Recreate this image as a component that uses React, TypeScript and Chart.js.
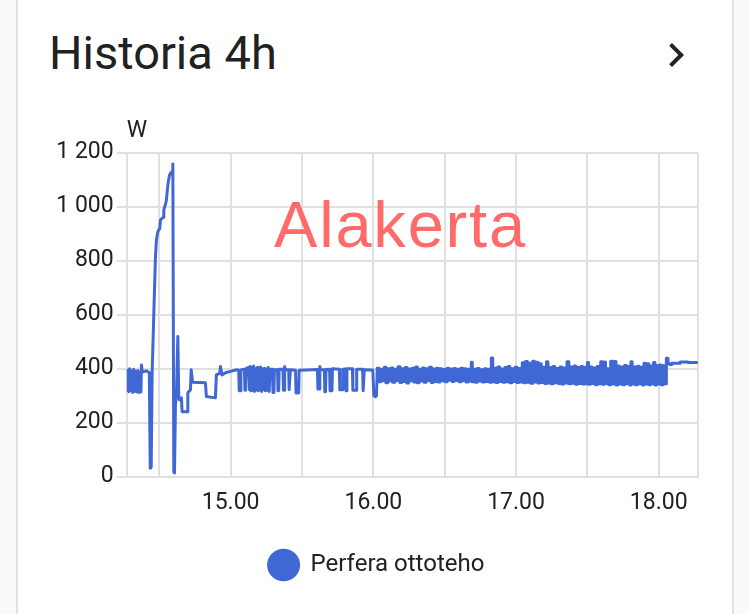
import React, { useEffect, useRef } from 'react';
import { Chart, registerables } from 'chart.js';

Chart.register(...registerables);

// ---- texts ----
const titleText = 'Historia 4h';
const overlayText = 'Alakerta';
const seriesLabel = 'Perfera ottoteho';
const unitLabel = 'W';

// ---- axes (minutes since midnight) ----
const xMin = 856.3;
const xMax = 1096.5;
const xGridMinutes = [870, 900, 930, 960, 990, 1020, 1050, 1080];
const xLabelMinutes = [900, 960, 1020, 1080];
const yTicks = [0, 200, 400, 600, 800, 1000, 1200];

// ---- series: 14.16 – 15.02 ----
const startMinutes = [856.5, 856.8, 857.2, 857.6, 858.0, 858.4, 858.8, 859.3, 859.7, 860.1,
  860.6, 861.0, 861.4, 861.9, 862.3, 862.5, 862.9, 864.5, 865.8, 866.2,
  866.6, 867.0, 867.7, 868.1, 868.4, 868.8, 869.4, 870.2, 870.5, 871.6,
  871.9, 872.9, 873.7, 874.3, 875.0, 875.4, 875.7, 876.1, 876.4, 876.8,
  877.2, 877.8, 878.2, 878.5, 879.3, 879.6, 881.7, 882.0, 883.1, 883.4,
  884.0, 889.4, 889.8, 893.6, 894.0, 895.4, 895.7, 896.4, 897.8, 899.9,
  902.5];
const startWatts = [320, 395, 315, 400, 318, 392, 312, 398, 316, 390,
  314, 393, 312, 388, 314, 414, 388, 392, 386, 31,
  35, 383, 605, 728, 815, 877, 907, 920, 951, 961,
  988, 1019, 1087, 1117, 1127, 1130, 1158, 18, 14, 270,
  300, 519, 290, 285, 292, 241, 241, 311, 322, 396,
  350, 348, 297, 292, 377, 383, 408, 377, 385, 390,
  396];

// ---- series: 15.03 – 16.02 ----
const midMinutes = [903.4, 903.6, 904.1, 904.3, 905.8, 906.0, 906.3, 906.5, 907.6, 907.9,
  908.3, 908.6, 909.0, 909.3, 909.7, 910.0, 910.4, 910.8, 911.2, 911.5,
  911.9, 912.3, 912.6, 913.0, 913.5, 913.9, 914.3, 914.6, 915.0, 915.4,
  915.8, 916.2, 916.6, 917.6, 917.8, 918.2, 918.4, 919.7, 919.9, 920.2,
  920.4, 922.0, 922.2, 922.5, 922.7, 923.0, 924.4, 924.6, 924.9, 925.1,
  927.3, 927.5, 928.6, 928.8, 932.0, 936.5, 936.7, 937.3, 937.5, 937.8,
  939.4, 939.6, 939.9, 940.1, 941.6, 941.8, 942.6, 942.8, 945.7, 945.9,
  947.0, 947.2, 948.3, 948.5, 948.7, 948.9, 951.2, 951.4, 952.8, 953.0,
  955.5, 955.7, 956.0, 956.2, 959.5, 959.8, 960.2, 960.9, 961.3, 961.6];
const midWatts = [394, 318, 318, 395, 398, 320, 320, 400, 405, 322,
  408, 318, 402, 320, 410, 316, 400, 322, 404, 318,
  398, 320, 406, 316, 400, 322, 402, 318, 398, 320,
  404, 316, 398, 398, 312, 312, 396, 396, 318, 318,
  398, 398, 320, 320, 408, 397, 396, 322, 322, 396,
  394, 310, 310, 394, 395, 397, 325, 325, 408, 396,
  396, 315, 315, 397, 398, 318, 318, 400, 398, 322,
  322, 398, 399, 318, 318, 400, 400, 320, 320, 398,
  398, 318, 318, 396, 395, 392, 300, 296, 300, 380];

// ---- series: 16.02 – 18.04 ----
const denseMinutes = [962.4, 963.1, 963.8, 964.6, 965.3, 966.0, 966.8, 967.5, 968.2, 969.0,
  969.7, 970.4, 971.2, 971.9, 972.6, 973.4, 974.1, 974.8, 975.6, 976.3,
  977.0, 977.8, 978.5, 979.2, 980.0, 980.7, 981.4, 982.2, 982.9, 983.6,
  984.4, 985.1, 985.8, 986.6, 987.3, 988.0, 988.8, 989.5, 990.2, 991.0,
  991.7, 992.4, 993.2, 993.9, 994.6, 995.4, 996.1, 996.8, 997.6, 998.3,
  999.0, 999.8, 1000.5, 1001.2, 1001.6, 1002.3, 1003.0, 1003.7, 1004.5, 1005.2,
  1005.9, 1006.7, 1007.4, 1008.1, 1008.9, 1009.6, 1010.2, 1010.9, 1011.6, 1012.3,
  1013.1, 1013.8, 1014.5, 1015.3, 1016.0, 1016.7, 1017.4, 1018.2, 1018.9, 1019.6,
  1020.4, 1021.1, 1021.8, 1022.6, 1023.3, 1024.0, 1024.8, 1025.5, 1026.2, 1027.0,
  1027.7, 1028.4, 1029.2, 1029.9, 1030.6, 1031.3, 1032.1, 1032.8, 1033.4, 1034.1,
  1034.8, 1035.6, 1036.3, 1037.0, 1037.8, 1038.5, 1039.2, 1040.0, 1040.7, 1041.4,
  1042.2, 1042.9, 1043.6, 1044.4, 1045.1, 1045.8, 1046.6, 1047.3, 1048.0, 1048.8,
  1049.4, 1050.0, 1050.5, 1051.2, 1051.9, 1052.6, 1053.4, 1054.1, 1054.8, 1055.6,
  1056.3, 1057.0, 1057.6, 1058.3, 1059.0, 1059.8, 1060.6, 1061.3, 1062.0, 1062.7,
  1063.4, 1064.2, 1064.9, 1065.6, 1066.4, 1067.1, 1067.8, 1068.3, 1068.8, 1069.5,
  1070.2, 1071.0, 1071.7, 1072.4, 1073.2, 1073.8, 1074.4, 1075.1, 1075.8, 1076.5,
  1077.2, 1077.8, 1078.4, 1079.0, 1079.7, 1080.4, 1081.1, 1081.8, 1082.5, 1083.2,
  1083.9];
const denseWatts = [402, 352, 398, 355, 405, 348, 400, 354, 403, 350,
  398, 356, 407, 349, 400, 353, 404, 347, 399, 355,
  402, 351, 406, 348, 398, 354, 403, 350, 400, 356,
  405, 349, 399, 353, 402, 351, 400, 355, 397, 352,
  402, 357, 399, 353, 401, 356, 398, 352, 402, 355,
  400, 351, 398, 354, 424, 352, 398, 350, 401, 354,
  396, 351, 400, 353, 398, 350, 440, 352, 402, 349,
  406, 353, 399, 350, 404, 352, 408, 348, 400, 353,
  405, 349, 401, 351, 422, 348, 427, 350, 420, 346,
  428, 351, 424, 347, 418, 349, 405, 345, 426, 347,
  404, 344, 408, 348, 401, 345, 406, 343, 403, 347,
  426, 344, 406, 346, 410, 342, 404, 345, 408, 343,
  405, 344, 423, 342, 406, 345, 403, 341, 408, 344,
  426, 342, 425, 345, 400, 341, 428, 344, 427, 340,
  410, 343, 406, 341, 412, 344, 408, 340, 426, 343,
  406, 341, 409, 344, 405, 340, 420, 343, 418, 341,
  410, 344, 423, 340, 412, 343, 414, 341, 411, 344,
  439];

// ---- series: 18.05 – end ----
const tailMinutes = [1084.7, 1085.5, 1089.0, 1092.3, 1095.9];
const tailWatts = [418, 416, 420, 425, 423];

const lineColor = '#4068d4';
const textColor = '#212121';
const gridColor = '#e0e0e0';

const fmtMinutes = (m: number) =>
  `${Math.floor(m / 60)}.${String(Math.round(m % 60)).padStart(2, '0')}`;
const fmtWatts = (v: number) =>
  v >= 1000 ? `${Math.floor(v / 1000)}\u00a0${String(v % 1000).padStart(3, '0')}` : String(v);

// smooth part (start + mid) and the rapidly switching part (dense + tail), drawn stepped
const smoothMinutes = [...startMinutes, ...midMinutes];
const smoothWatts = [...startWatts, ...midWatts];
const steppedMinutes = [smoothMinutes[smoothMinutes.length - 1], ...denseMinutes, ...tailMinutes];
const steppedWatts = [smoothWatts[smoothWatts.length - 1], ...denseWatts, ...tailWatts];

const unitPlugin = {
  id: 'unitLabel',
  afterDraw(chart: any) {
    const { ctx, chartArea } = chart;
    ctx.save();
    ctx.font = '23px Roboto';
    ctx.fillStyle = textColor;
    ctx.textAlign = 'left';
    ctx.textBaseline = 'alphabetic';
    ctx.fillText(unitLabel, chartArea.left, chartArea.top - 16);
    ctx.restore();
  },
};

export default function App() {
  const canvasRef = useRef<HTMLCanvasElement>(null);

  useEffect(() => {
    if (!canvasRef.current) return;
    const smoothPoints = smoothMinutes.map((m, i) => ({ x: m, y: smoothWatts[i] }));
    const steppedPoints = steppedMinutes.map((m, i) => ({ x: m, y: steppedWatts[i] }));
    const common = {
      borderColor: lineColor,
      backgroundColor: lineColor,
      borderWidth: 3,
      borderJoinStyle: 'round',
      borderCapStyle: 'round',
      pointRadius: 0,
      pointHoverRadius: 0,
      pointStyle: 'circle',
      fill: false,
    };
    const chart = new Chart(canvasRef.current, {
      type: 'line',
      data: {
        datasets: [
          { ...common, label: seriesLabel, data: smoothPoints, tension: 0 },
          { ...common, label: seriesLabel + ' ', data: steppedPoints, stepped: 'after' },
        ],
      },
      options: {
        animation: false,
        responsive: true,
        maintainAspectRatio: false,
        layout: { padding: { left: 37, right: 33, top: 57.7, bottom: 27 } },
        plugins: {
          legend: {
            position: 'bottom',
            labels: {
              usePointStyle: true,
              pointStyle: 'circle',
              pointStyleWidth: 30,
              boxHeight: 21,
              padding: 30,
              color: textColor,
              font: { family: 'Roboto', size: 24 },
              filter: (item: any) => item.datasetIndex === 0,
            },
          },
          tooltip: { enabled: false },
        },
        scales: {
          x: {
            type: 'linear',
            min: xMin,
            max: xMax,
            afterBuildTicks: (scale: any) => {
              scale.ticks = [xMin, ...xGridMinutes, xMax].map((value) => ({ value }));
            },
            afterFit: (scale: any) => {
              scale.height = 46.3;
            },
            ticks: {
              autoSkip: false,
              maxRotation: 0,
              padding: 12.5,
              color: textColor,
              font: { family: 'Roboto', size: 23 },
              callback: (v: any) => (xLabelMinutes.includes(Number(v)) ? fmtMinutes(Number(v)) : ''),
            },
            grid: { color: gridColor, lineWidth: 2, drawTicks: false },
            border: { color: gridColor, width: 2 },
          },
          y: {
            min: 0,
            max: 1200,
            afterBuildTicks: (scale: any) => {
              scale.ticks = yTicks.map((value) => ({ value }));
            },
            afterFit: (scale: any) => {
              scale.width = 71.7;
            },
            ticks: {
              padding: 3,
              color: textColor,
              font: { family: 'Roboto', size: 23 },
              callback: (v: any) => fmtWatts(Number(v)),
            },
            grid: { color: gridColor, lineWidth: 2, tickLength: 10 },
            border: { color: gridColor, width: 2 },
          },
        },
      },
      plugins: [unitPlugin],
    } as any);
    return () => chart.destroy();
  }, []);

  return (
    <div
      style={{
        position: 'absolute',
        left: 0,
        top: 0,
        width: 749,
        height: 614,
        overflow: 'hidden',
        background: '#fafafa',
        fontFamily: 'Roboto, sans-serif',
      }}
    >
      <div
        style={{
          position: 'absolute',
          left: 16,
          top: -20,
          width: 718,
          height: 700,
          boxSizing: 'border-box',
          background: '#ffffff',
          border: '2px solid #e2e2e2',
          borderRadius: 8,
        }}
      />
      <div
        style={{
          position: 'absolute',
          left: 49,
          top: 28.5,
          fontSize: 47,
          lineHeight: '47px',
          color: textColor,
          whiteSpace: 'nowrap',
        }}
      >
        {titleText}
      </div>
      <svg
        style={{ position: 'absolute', left: 652, top: 31 }}
        width={48}
        height={48}
        viewBox="0 0 24 24"
      >
        <path d="M8.59,16.58L13.17,12L8.59,7.41L10,6L16,12L10,18L8.59,16.58Z" fill={textColor} />
      </svg>
      <div style={{ position: 'absolute', left: 18, top: 95, width: 713, height: 519 }}>
        <canvas ref={canvasRef} />
      </div>
      <div
        style={{
          position: 'absolute',
          left: 274,
          top: 192,
          fontFamily: '"Liberation Sans", Arial, sans-serif',
          fontSize: 65,
          lineHeight: '65px',
          letterSpacing: '1.8px',
          color: '#ff6a6a',
          whiteSpace: 'nowrap',
        }}
      >
        {overlayText}
      </div>
    </div>
  );
}
